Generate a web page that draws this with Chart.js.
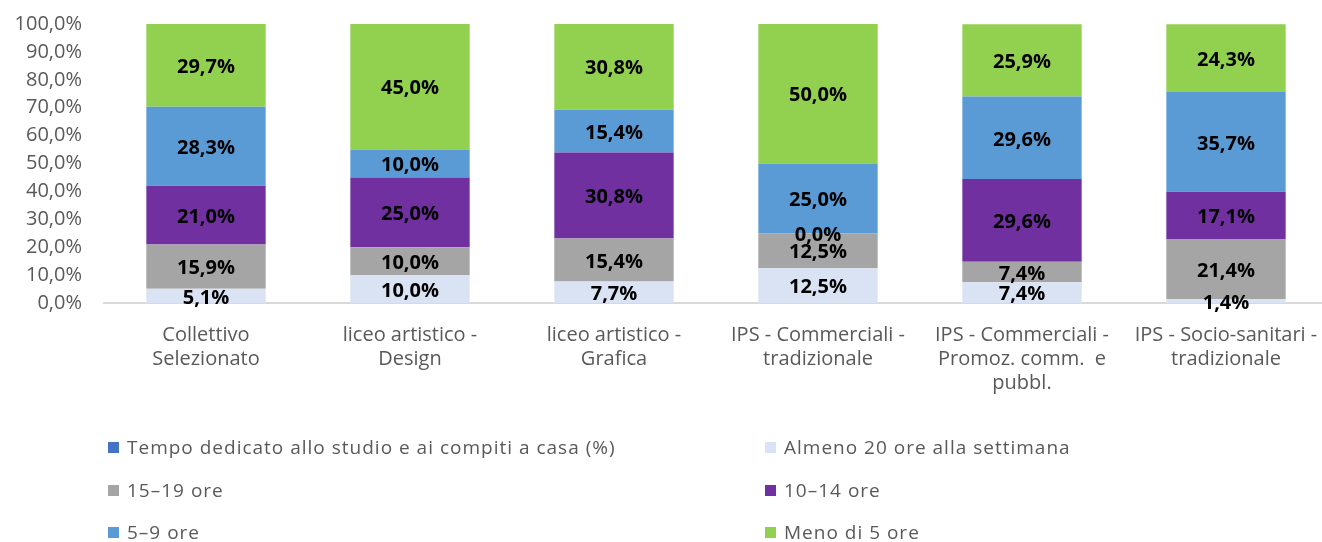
<!DOCTYPE html>
<html>
<head>
<meta charset="utf-8">
<script src="https://cdn.jsdelivr.net/npm/chart.js@4"></script>
<style>
  html, body { margin: 0; padding: 0; background: #fff; overflow: hidden; }
  #wrap { position: relative; width: 1328px; height: 542px; }
  #box { position: absolute; left: 0; top: 0; width: 1328px; height: 420px; }
  #legenda { position: absolute; left: 0; top: 0; width: 1322px; height: 542px; pointer-events: none;
    font-family: "Open Sans", sans-serif; font-size: 19px; color: #595959; letter-spacing: 1px; }
  .voce { position: absolute; display: flex; align-items: center; white-space: nowrap; }
  .voce span.q { width: 11px; height: 11px; margin-right: 8px; display: inline-block; }
</style>
</head>
<body>
<div id="wrap">
  <div id="box"><canvas id="grafico"></canvas></div>
  <div id="legenda"></div>
</div>
<script>
// ---------- Dati ----------
const categorie = [
  ['Collettivo', 'Selezionato'],
  ['liceo artistico -', 'Design'],
  ['liceo artistico -', 'Grafica'],
  ['IPS - Commerciali -', 'tradizionale'],
  ['IPS - Commerciali -', 'Promoz. comm.  e', 'pubbl.'],
  ['IPS - Socio-sanitari -', 'tradizionale']
];

const serieNomi = [
  'Tempo dedicato allo studio e ai compiti a casa (%)',
  'Almeno 20 ore alla settimana',
  '15–19 ore',
  '10–14 ore',
  '5–9 ore',
  'Meno di 5 ore'
];

const tempoDedicato = [null, null, null, null, null, null];
const almeno20 = [5.1, 10.0, 7.7, 12.5, 7.4, 1.4];
const ore15_19 = [15.9, 10.0, 15.4, 12.5, 7.4, 21.4];
const ore10_14 = [21.0, 25.0, 30.8, 0.0, 29.6, 17.1];
const ore5_9 = [28.3, 10.0, 15.4, 25.0, 29.6, 35.7];
const meno5 = [29.7, 45.0, 30.8, 50.0, 25.9, 24.3];

const yTicks = [0, 10, 20, 30, 40, 50, 60, 70, 80, 90, 100];

const colori = ['#4472C4', '#DAE3F3', '#A5A5A5', '#7030A0', '#5B9BD5', '#92D050'];
const valori = [tempoDedicato, almeno20, ore15_19, ore10_14, ore5_9, meno5];

function formatta(v) {
  return v.toFixed(1).replace('.', ',') + '%';
}

// ---------- Etichette sulle barre ----------
const etichette = {
  id: 'etichette',
  afterDatasetsDraw(chart) {
    const ctx = chart.ctx;
    ctx.save();
    ctx.font = 'bold 20px "Open Sans", sans-serif';
    ctx.fillStyle = '#000';
    ctx.textAlign = 'center';
    ctx.textBaseline = 'middle';
    chart.data.datasets.forEach((ds, i) => {
      if (i === 0) return;
      const meta = chart.getDatasetMeta(i);
      meta.data.forEach((bar, j) => {
        const v = ds.data[j];
        if (v === null) return;
        const y = (bar.y + bar.base) / 2;
        ctx.fillText(formatta(v), bar.x, y + 2);
      });
    });
    ctx.restore();
  }
};

// ---------- Grafico ----------
const ctx = document.getElementById('grafico').getContext('2d');

new Chart(ctx, {
  type: 'bar',
  data: {
    labels: categorie,
    datasets: valori.map((d, i) => ({
      label: serieNomi[i],
      data: d,
      backgroundColor: colori[i],
      borderWidth: 0,
      barPercentage: 0.585,
      categoryPercentage: 1
    }))
  },
  options: {
    responsive: true,
    maintainAspectRatio: false,
    animation: false,
    layout: { padding: { top: 24, right: 0, bottom: 0, left: 0 } },
    scales: {
      x: {
        stacked: true,
        grid: { display: false },
        border: { display: true, color: '#D9D9D9', width: 2 },
        ticks: {
          color: '#595959',
          font: { family: 'Open Sans', size: 20 },
          padding: 12,
          maxRotation: 0,
          autoSkip: false
        },
        afterFit(axis) {
          axis.height = 117;
          axis.paddingLeft = 0;
          axis.paddingRight = 0;
        }
      },
      y: {
        stacked: true,
        min: 0,
        max: 100,
        afterBuildTicks(axis) { axis.ticks = yTicks.map(v => ({ value: v })); },
        grid: { display: false, drawTicks: false },
        border: { display: false },
        ticks: {
          color: '#595959',
          font: { family: 'Open Sans', size: 20 },
          padding: 22,
          autoSkip: false,
          callback: v => formatta(v)
        },
        afterFit(axis) {
          axis.width = 104;
          axis.paddingTop = 0;
          axis.paddingBottom = 0;
        }
      }
    },
    plugins: {
      legend: { display: false },
      tooltip: { enabled: false }
    }
  },
  plugins: [etichette]
});

// ---------- Legenda ----------
const legenda = document.getElementById('legenda');
const posizioni = [[108, 447], [765, 447], [108, 490], [765, 490], [108, 532], [765, 532]];
serieNomi.forEach((nome, i) => {
  const el = document.createElement('div');
  el.className = 'voce';
  el.style.left = posizioni[i][0] + 'px';
  el.style.top = (posizioni[i][1] - 14) + 'px';
  el.style.height = '28px';
  el.innerHTML = '<span class="q" style="background:' + colori[i] + '"></span>' + nome;
  legenda.appendChild(el);
});
</script>
</body>
</html>
